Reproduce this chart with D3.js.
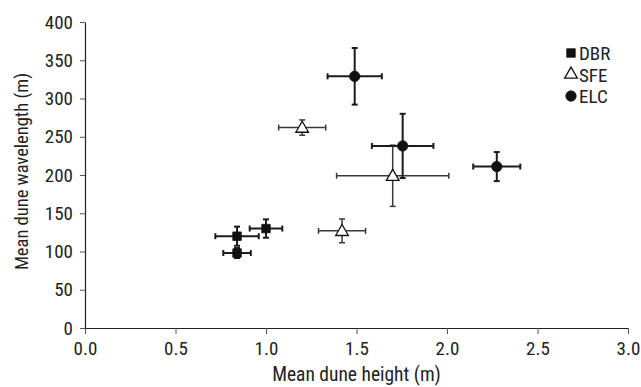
<!DOCTYPE html>
<html>
<head>
<meta charset="utf-8">
<script src="https://cdn.jsdelivr.net/npm/d3@7"></script>
<style>
  body { margin: 0; background: #fff; }
  svg text { font-family: "Liberation Sans Narrow", "Arial Narrow", "Roboto Condensed", "Liberation Sans", sans-serif; fill: #222; }
</style>
</head>
<body>
<div id="chart"></div>
<script>
// values: mean height, mean wavelength, and +/- errors
const series = ["DBR", "SFE", "ELC"];
const dbrX   = [0.84, 0.84, 1.00];
const dbrY   = [120, 98, 130];
const dbrXErr = [0.12, 0.076, 0.09];
const dbrYErr = [12.5, 6.5, 12];
const sfeX   = [1.20, 1.70, 1.42];
const sfeY   = [262, 199, 127];
const sfeXErr = [0.13, 0.31, 0.13];
const sfeYErr = [10, 40, 15.5];
const elcX   = [1.49, 1.755, 2.275];
const elcY   = [329, 238, 211];
const elcXErr = [0.15, 0.17, 0.13];
const elcYErr = [37, 42, 19];
const xTicks = [0, 0.5, 1.0, 1.5, 2.0, 2.5, 3.0];
const yTicks = [0, 50, 100, 150, 200, 250, 300, 350, 400];

(function() {
    const margin = { top: 22, right: 13, bottom: 59, left: 85 };
    const W = 641, H = 387;
    const width = W - margin.left - margin.right;
    const height = H - margin.top - margin.bottom;
    const fs = "19px";

    const x = d3.scaleLinear().domain([0, 3]).range([0, width]);
    const y = d3.scaleLinear().domain([0, 400]).range([height, 0]);

    const svg = d3.select("#chart").append("svg")
        .attr("width", W).attr("height", H)
        .append("g")
        .attr("transform", "translate(" + margin.left + "," + margin.top + ")");

    const toPoints = (xs, ys, xe, ye, key) => xs.map((v, i) => ({ key, x: v, y: ys[i], xe: xe[i], ye: ye[i] }));
    const data = [].concat(
        toPoints(dbrX, dbrY, dbrXErr, dbrYErr, "DBR"),
        toPoints(sfeX, sfeY, sfeXErr, sfeYErr, "SFE"),
        toPoints(elcX, elcY, elcXErr, elcYErr, "ELC")
    );

    // axes
    const xAxis = svg.append("g")
        .attr("transform", "translate(0," + height + ")")
        .call(d3.axisBottom(x).tickValues(xTicks).tickFormat(d3.format(".1f")).tickSizeInner(6).tickSizeOuter(0).tickPadding(8));
    const yAxis = svg.append("g")
        .call(d3.axisLeft(y).tickValues(yTicks).tickSizeInner(5).tickSizeOuter(0).tickPadding(7));
    [xAxis, yAxis].forEach(a => {
        a.select(".domain").attr("stroke", "#222").attr("stroke-width", 1.2);
        a.selectAll(".tick line").attr("stroke", "#555");
        a.selectAll("text").style("font-size", fs).attr("fill", "#222");
    });

    // error bars
    const cap = 3;
    const bars = svg.append("g").selectAll("g").data(data).join("g")
        .attr("stroke", d => d.key === "SFE" ? "#3a3a3a" : "#1a1a1a")
        .attr("stroke-width", d => d.key === "SFE" ? 1.5 : 2);
    bars.append("line")
        .attr("x1", d => x(d.x - d.xe)).attr("x2", d => x(d.x + d.xe))
        .attr("y1", d => y(d.y)).attr("y2", d => y(d.y));
    bars.append("line")
        .attr("x1", d => x(d.x)).attr("x2", d => x(d.x))
        .attr("y1", d => y(d.y - d.ye)).attr("y2", d => y(d.y + d.ye));
    [-1, 1].forEach(s => {
        bars.append("line")
            .attr("x1", d => x(d.x + s * d.xe)).attr("x2", d => x(d.x + s * d.xe))
            .attr("y1", d => y(d.y) - cap).attr("y2", d => y(d.y) + cap);
        bars.append("line")
            .attr("x1", d => x(d.x) - cap).attr("x2", d => x(d.x) + cap)
            .attr("y1", d => y(d.y + s * d.ye)).attr("y2", d => y(d.y + s * d.ye));
    });

    // markers
    const symbolFor = {
        DBR: d3.symbol().type(d3.symbolSquare).size(72),
        SFE: d3.symbol().type(d3.symbolTriangle).size(70),
        ELC: d3.symbol().type(d3.symbolCircle).size(85)
    };
    const drawMarker = (sel, key) => sel
        .attr("d", symbolFor[key]())
        .attr("fill", key === "SFE" ? "#fff" : "#111")
        .attr("stroke", "#111")
        .attr("stroke-width", key === "SFE" ? 1.3 : 0.8);

    svg.append("g").selectAll("path").data(data).join("path")
        .attr("transform", d => "translate(" + x(d.x) + "," + (y(d.y) + (d.key === "SFE" ? 1 : 0)) + ")")
        .each(function(d) { drawMarker(d3.select(this), d.key); });

    // legend
    const legend = svg.append("g").attr("transform", "translate(" + (571 - margin.left) + "," + (53 - margin.top) + ")");
    series.forEach((key, i) => {
        const row = legend.append("g").attr("transform", "translate(0," + (i * 21.5) + ")");
        row.append("path").call(drawMarker, key);
        row.append("text").attr("x", 8).attr("y", 7).text(key).style("font-size", fs);
    });

    // axis titles
    svg.append("text")
        .attr("x", width / 2).attr("y", height + 53)
        .attr("text-anchor", "middle")
        .style("font-size", "19.5px")
        .text("Mean dune height (m)");
    svg.append("text")
        .attr("transform", "translate(" + (-57) + "," + (height / 2 - 3.5) + ") rotate(-90)")
        .attr("text-anchor", "middle")
        .style("font-size", "18.5px")
        .text("Mean dune wavelength (m)");
})();
</script>
</body>
</html>
